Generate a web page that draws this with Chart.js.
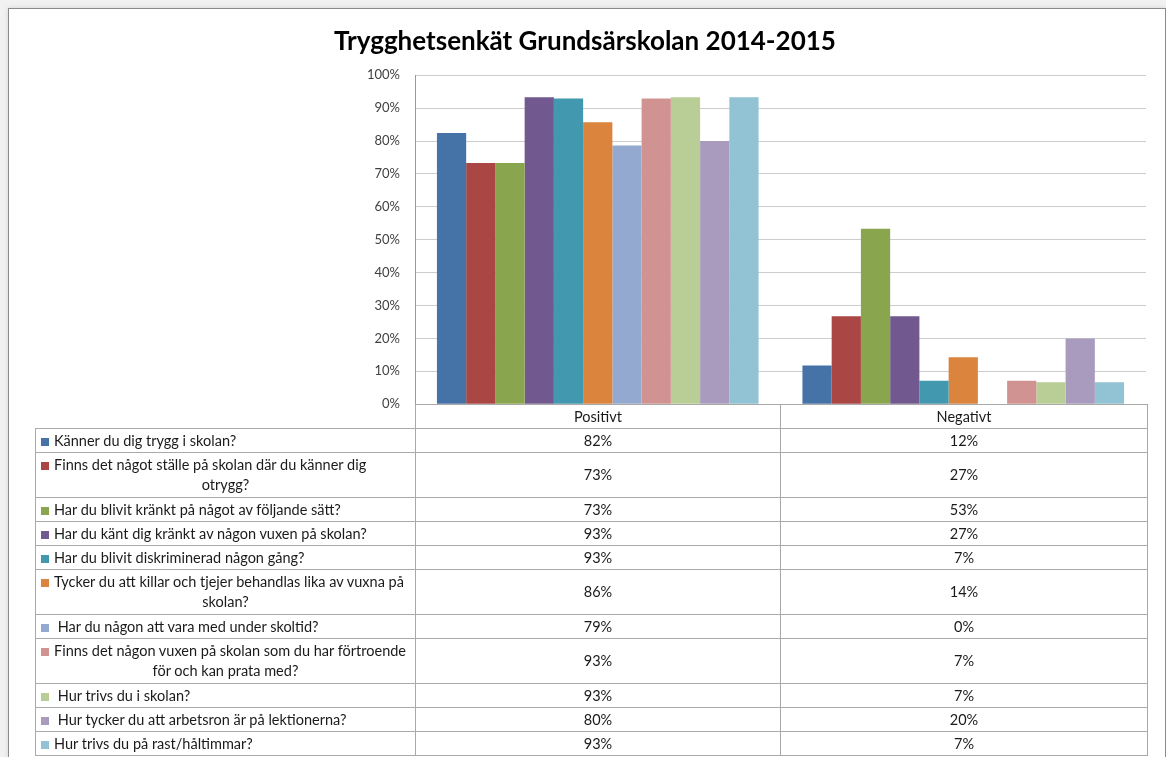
<!DOCTYPE html>
<html lang="sv">
<head>
<meta charset="utf-8">
<title>Trygghetsenkät Grundsärskolan 2014-2015</title>
<script src="https://cdn.jsdelivr.net/npm/chart.js@4.4.1/dist/chart.umd.min.js"></script>
<style>
  html, body { margin: 0; padding: 0; background: #f1f1f1; overflow: hidden; }
  #wrap { position: relative; width: 1166px; height: 757px; }
  #frame {
    position: absolute; left: 8px; top: 8px; width: 1156px; height: 770px;
    background: #fff; border: 1px solid #8a8a8a; border-bottom: none;
    box-shadow: 0 0 5px rgba(0, 0, 0, 0.12);
  }
  #chartBox { position: absolute; left: 0; top: 0; width: 1166px; height: 427px; }
  #dataTable {
    position: absolute; left: 35px; top: 404px; width: 1112px;
    border-collapse: collapse; table-layout: fixed;
    font-family: Lato, "Open Sans", sans-serif; font-size: 14.5px; color: #1a1a1a;
  }
  #dataTable td { border: 1px solid #a9a9a9; padding: 0; text-align: center; vertical-align: middle; line-height: 20px; }
  #dataTable td.blank { border: none; }
  #dataTable td.q { text-align: left; padding-left: 5px; white-space: pre; }
  #dataTable tr.one { height: 24px; }
  #dataTable tr.two { height: 45px; }
  .key { display: inline-block; width: 8px; height: 8px; margin-right: 5px; vertical-align: 0px; }
  .more { text-align: center; padding-right: 5px; }
</style>
</head>
<body>
<div id="wrap">
  <div id="frame"></div>
  <div id="chartBox"><canvas id="myChart"></canvas></div>
  <table id="dataTable"></table>
</div>
<script>
const categories = ["Positivt", "Negativt"];

const questions = [
  ["Känner du dig trygg i skolan?"],
  ["Finns det något ställe på skolan där du känner dig", "otrygg?"],
  ["Har du blivit kränkt på något av följande sätt?"],
  ["Har du känt dig kränkt av någon vuxen på skolan?"],
  ["Har du blivit diskriminerad någon gång?"],
  ["Tycker du att killar och tjejer behandlas lika av vuxna på", "skolan?"],
  [" Har du någon att vara med under skoltid?"],
  ["Finns det någon vuxen på skolan som du har förtroende", "för och kan prata med?"],
  [" Hur trivs du i skolan?"],
  [" Hur tycker du att arbetsron är på lektionerna?"],
  ["Hur trivs du på rast/håltimmar?"],
];

const positive = [82.4, 73.3, 73.3, 93.3, 92.9, 85.7, 78.6, 92.9, 93.3, 80.0, 93.3];
const negative = [11.8, 26.7, 53.3, 26.7, 7.1, 14.3, 0, 7.1, 6.7, 20.0, 6.7];

const yTicks = [0, 10, 20, 30, 40, 50, 60, 70, 80, 90, 100];

const colors = [
  "#4572A7", "#AA4643", "#89A54E", "#71588F", "#4198AF", "#DB843D",
  "#93A9CF", "#D19392", "#B9CD96", "#A99BBD", "#91C3D5",
];

const trygghetApp = (function () {
  function buildTable() {
    const table = document.getElementById("dataTable");
    let html = '<colgroup><col style="width:380px"><col style="width:365px"><col style="width:367px"></colgroup>';
    html += '<tr class="one"><td class="blank"></td>';
    categories.forEach(function (c) { html += "<td>" + c + "</td>"; });
    html += "</tr>";
    questions.forEach(function (lines, i) {
      html += '<tr class="' + (lines.length > 1 ? "two" : "one") + '">';
      html += '<td class="q"><span class="key" style="background:' + colors[i] + '"></span>' + lines[0];
      for (let k = 1; k < lines.length; k++) {
        html += '<div class="more">' + lines[k] + "</div>";
      }
      html += "</td>";
      html += "<td>" + Math.round(positive[i]) + "%</td>";
      html += "<td>" + Math.round(negative[i]) + "%</td>";
      html += "</tr>";
    });
    table.innerHTML = html;
  }

  function initChart() {
    const ctx = document.getElementById("myChart");

    new Chart(ctx, {
      type: "bar",
      data: {
        labels: categories,
        datasets: questions.map(function (lines, i) {
          return {
            label: lines.join(" ").trim(),
            data: [positive[i], negative[i]],
            backgroundColor: colors[i],
            borderWidth: 0,
            barPercentage: 1.0,
            categoryPercentage: 0.88,
          };
        }),
      },
      options: {
        responsive: true,
        maintainAspectRatio: false,
        animation: false,
        layout: { padding: { left: 24, right: 20, top: 0, bottom: 16 } },
        plugins: {
          legend: { display: false },
          title: {
            display: true,
            text: "Trygghetsenkät Grundsärskolan 2014-2015",
            color: "#000",
            font: { family: "Lato", size: 26, weight: "bold" },
            padding: { top: 26, bottom: 18 },
          },
        },
        scales: {
          x: { display: false },
          y: {
            min: 0,
            max: 100,
            afterFit: function (scale) { scale.width = 391; },
            afterBuildTicks: function (scale) {
              scale.ticks = yTicks.map(function (v) { return { value: v }; });
            },
            ticks: {
              padding: 15,
              color: "#404040",
              font: { family: "Lato", size: 13 },
              callback: function (v) { return v + "%"; },
            },
            grid: { color: "#cdcdcd", drawTicks: false },
            border: { color: "#9a9a9a" },
          },
        },
      },
    });
  }

  return {
    init: function () {
      buildTable();
      initChart();
    },
  };
})();

trygghetApp.init();
</script>
</body>
</html>
